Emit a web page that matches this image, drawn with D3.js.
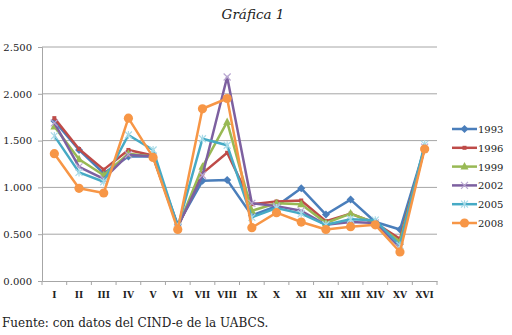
<!DOCTYPE html>
<html><head><meta charset="utf-8">
<script src="https://cdn.jsdelivr.net/npm/d3@7"></script>
<style>body{margin:0;background:#fff}svg{display:block}</style>
</head><body>
<svg id="c" width="512" height="335"></svg>
<script>
const categories = ["I","II","III","IV","V","VI","VII","VIII","IX","X","XI","XII","XIII","XIV","XV","XVI"];
const seriesNames = ["1993","1996","1999","2002","2005","2008"];
const s1993 = [1.71,1.40,1.15,1.33,1.33,0.60,1.07,1.08,0.70,0.80,0.99,0.71,0.87,0.63,0.55,1.42];
const s1996 = [1.74,1.41,1.19,1.40,1.34,0.58,1.15,1.37,0.82,0.85,0.86,0.64,0.72,0.62,0.45,1.42];
const s1999 = [1.65,1.30,1.13,1.36,1.33,0.57,1.22,1.70,0.75,0.83,0.82,0.62,0.72,0.62,0.42,1.43];
const s2002 = [1.69,1.22,1.09,1.35,1.33,0.58,1.13,2.18,0.83,0.80,0.75,0.60,0.63,0.62,0.36,1.43];
const s2005 = [1.55,1.16,1.06,1.56,1.40,0.58,1.52,1.45,0.68,0.78,0.72,0.60,0.66,0.65,0.38,1.46];
const s2008 = [1.36,0.99,0.94,1.74,1.32,0.55,1.84,1.95,0.57,0.73,0.63,0.55,0.58,0.60,0.31,1.41];
const yTicks = [0,0.5,1,1.5,2,2.5];
const yTickLabels = ["0.000","0.500","1.000","1.500","2.000","2.500"];
const title = "Gráfica 1";
const source = "Fuente: con datos del CIND-e de la UABCS.";

const allSeries = [s1993,s1996,s1999,s2002,s2005,s2008];
const colors = ["#4a7ebb","#be4b48","#98b954","#7d60a0","#46aac5","#f79646"];
const markers = ["diamond","square","triangle","x","star","circle"];

const svg = d3.select("#c");
const L = 42, R = 437, T = 47, B = 281;
const x = d3.scaleBand().domain(categories).range([L,R]);
const y = d3.scaleLinear().domain([0,2.5]).range([B,T]);
const cx = d => x(d) + x.bandwidth()/2;

svg.append("text").attr("x",253).attr("y",19).attr("text-anchor","middle")
  .attr("font-family","DejaVu Serif").attr("font-style","italic").attr("font-size",13.5)
  .attr("fill","#222").text(title);

// grid
svg.append("g").selectAll("line").data(yTicks.slice(1)).join("line")
  .attr("x1",L).attr("x2",R).attr("y1",d=>y(d)).attr("y2",d=>y(d))
  .attr("stroke","#a6a6a6").attr("stroke-width",1);

// y axis
const yAxis = d3.axisLeft(y).tickValues(yTicks).tickSize(4).tickPadding(6)
  .tickFormat((d,i)=>yTickLabels[i]);
const gy = svg.append("g").attr("transform",`translate(${L},0)`).call(yAxis);
gy.select(".domain").attr("stroke","#a6a6a6");
gy.selectAll(".tick line").attr("stroke","#a6a6a6");
gy.selectAll("text").attr("font-family","DejaVu Serif").attr("font-size",10).attr("fill","#222");

// x axis
const xAxis = d3.axisBottom(x).tickSize(0).tickPadding(11);
const gx = svg.append("g").attr("transform",`translate(0,${B})`).call(xAxis);
gx.select(".domain").attr("stroke","#a6a6a6");
gx.selectAll("text").attr("font-family","DejaVu Serif").attr("font-weight","bold").attr("font-size",9).attr("fill","#222");
gx.append("g").selectAll("line").data(categories.concat(["_end"])).join("line")
  .attr("x1",(d,i)=> i<categories.length ? x(d) : R).attr("x2",(d,i)=> i<categories.length ? x(d) : R)
  .attr("y1",0).attr("y2",4).attr("stroke","#a6a6a6");

const line = d3.line().x((d,i)=>cx(categories[i])).y(d=>y(d));

function drawMarker(g, type, px, py, color){
  if(type==="diamond"){
    g.append("path").attr("d",`M${px},${py-4}L${px+4},${py}L${px},${py+4}L${px-4},${py}Z`).attr("fill",color);
  } else if(type==="square"){
    g.append("rect").attr("x",px-2).attr("y",py-2).attr("width",4).attr("height",4).attr("fill",color);
  } else if(type==="triangle"){
    g.append("path").attr("d",`M${px},${py-4.5}L${px+4},${py+3}L${px-4},${py+3}Z`).attr("fill",color);
  } else if(type==="x"){
    g.append("path").attr("d",`M${px-3.5},${py-3.5}L${px+3.5},${py+3.5}M${px-3.5},${py+3.5}L${px+3.5},${py-3.5}`).attr("stroke","#b9a7d1").attr("stroke-width",1.2);
  } else if(type==="star"){
    g.append("path").attr("d",`M${px-3.5},${py-3.5}L${px+3.5},${py+3.5}M${px-3.5},${py+3.5}L${px+3.5},${py-3.5}M${px},${py-4}L${px},${py+4}`).attr("stroke","#a9dbe8").attr("stroke-width",1.2);
  } else {
    g.append("circle").attr("cx",px).attr("cy",py).attr("r",4.6).attr("fill",color);
  }
}

allSeries.forEach((s,k)=>{
  const g = svg.append("g");
  g.append("path").datum(s).attr("d",line).attr("fill","none")
    .attr("stroke",colors[k]).attr("stroke-width",2.5).attr("stroke-linejoin","round");
  s.forEach((v,i)=>drawMarker(g, markers[k], cx(categories[i]), y(v), colors[k]));
});

// legend
const lg = svg.append("g");
seriesNames.forEach((n,k)=>{
  const ly = 129 + k*18.8;
  const g = lg.append("g");
  g.append("line").attr("x1",452).attr("x2",477).attr("y1",ly).attr("y2",ly)
    .attr("stroke",colors[k]).attr("stroke-width",2.5);
  drawMarker(g, markers[k], 464.5, ly, colors[k]);
  g.append("text").attr("x",478).attr("y",ly+4).attr("font-family","DejaVu Serif")
    .attr("font-size",10).attr("fill","#222").text(n);
});

svg.append("text").attr("x",2).attr("y",327).attr("font-family","DejaVu Serif")
  .attr("font-size",12).attr("fill","#222").text(source);
</script>
</body></html>
